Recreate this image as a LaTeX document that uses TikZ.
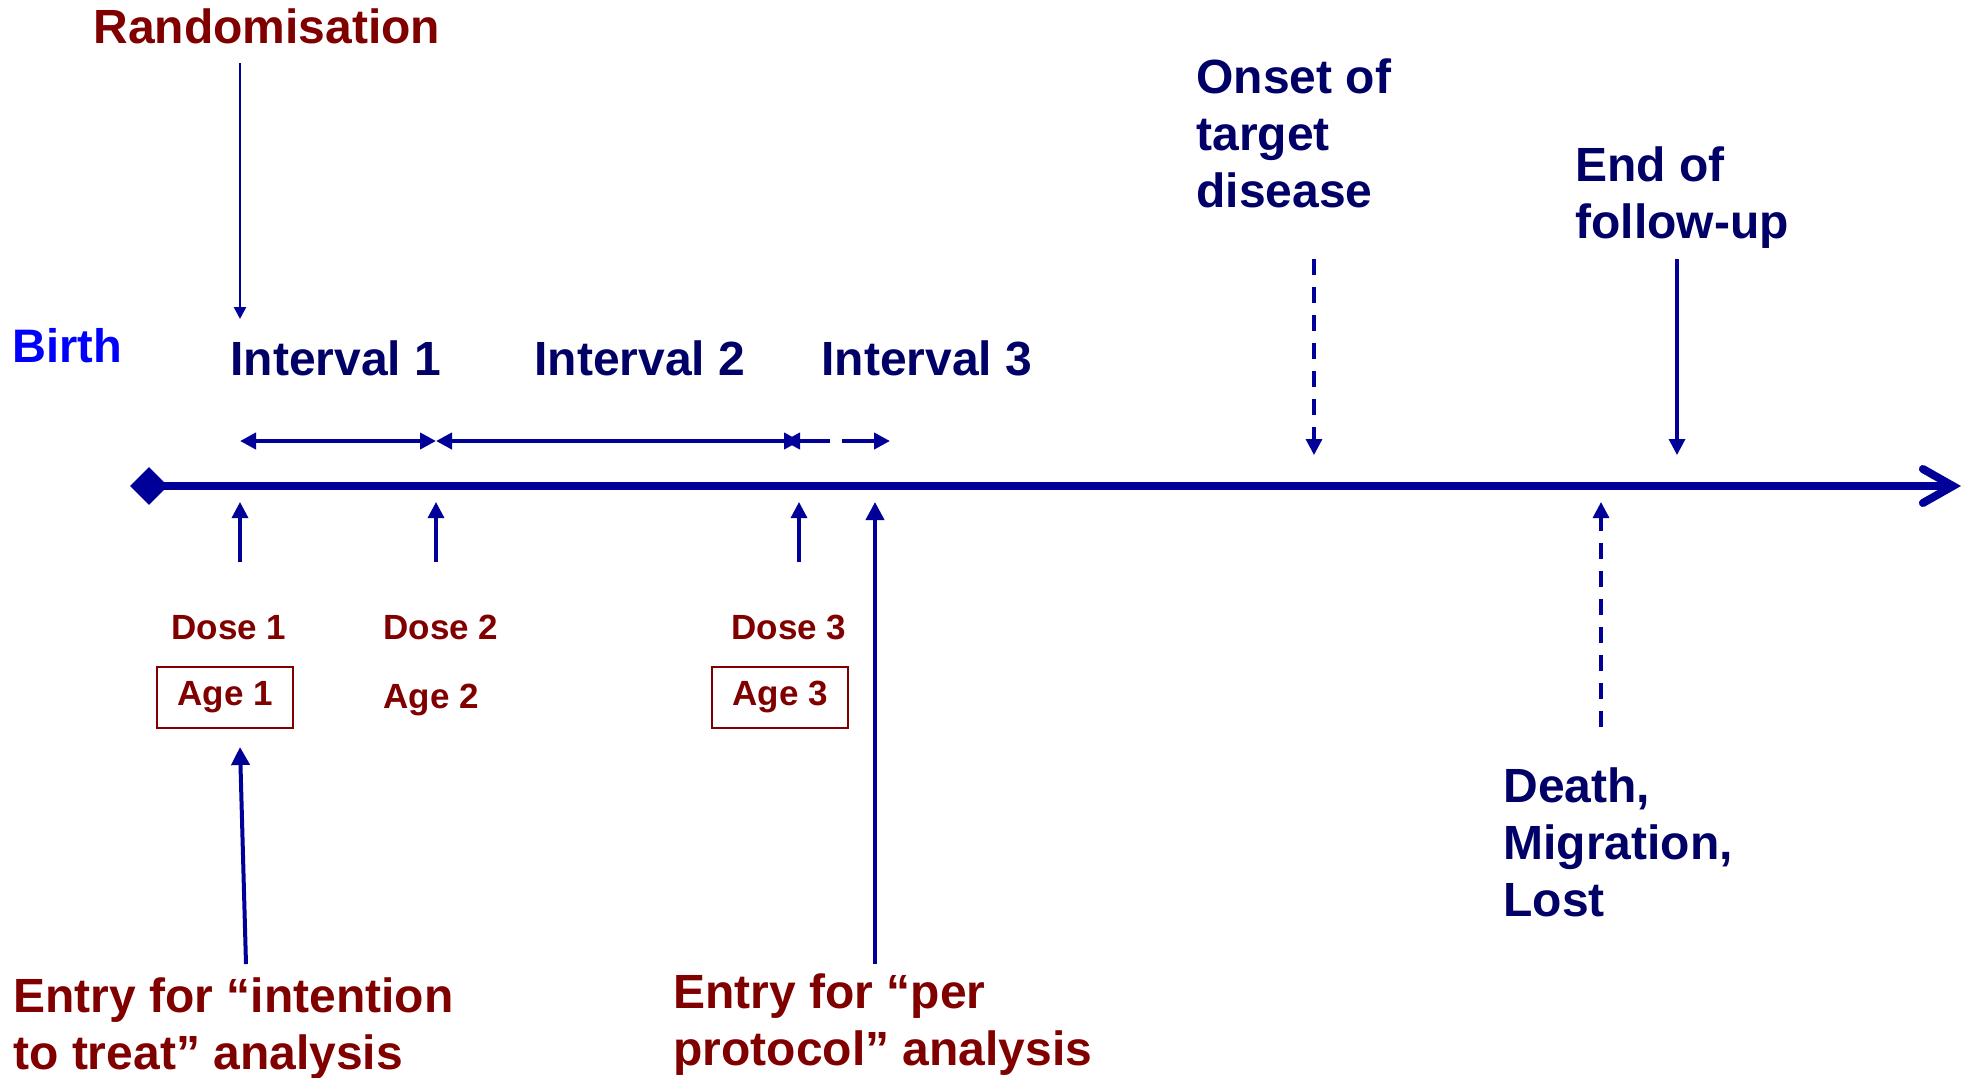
\documentclass[tikz,border=0pt]{standalone}
\usepackage{fontspec}
\setmainfont{Liberation Sans}
\usetikzlibrary{arrows.meta,shapes.geometric}
\definecolor{darkred}{RGB}{128,0,0}
\definecolor{navytext}{RGB}{0,0,102}
\definecolor{lineblue}{RGB}{0,0,153}
\definecolor{birthblue}{RGB}{0,0,255}
\begin{document}
\begin{tikzpicture}[x=0.5pt, y=-0.5pt,
    lab/.style={inner sep=0pt, anchor=base west, align=left,
        font=\fontsize{24}{28.5}\selectfont\bfseries},
    doselab/.style={inner sep=0pt, anchor=base west, text=darkred,
        font=\fontsize{17.5}{21}\selectfont\bfseries},
    agebox/.style={draw=darkred, line width=1pt, inner sep=0pt, minimum width=68pt,
        minimum height=30.5pt, text=darkred, font=\fontsize{17.5}{21}\selectfont\bfseries},
    arr/.style={draw=lineblue, line width=1.6pt, -{Triangle[length=8pt,width=8pt]}},
    thickarr/.style={draw=lineblue, line width=2pt, -{Triangle[length=9pt,width=9pt]}},
    dasharr/.style={arr, dash pattern=on 8pt off 6pt},
    span/.style={draw=lineblue, line width=2pt,
        {Triangle[length=8pt,width=8pt]}-{Triangle[length=8pt,width=8pt]}}]
    \useasboundingbox (0,0) rectangle (1962,1077);

    % time axis
    \node[diamond, fill=lineblue, inner sep=0pt, minimum width=19pt,
        minimum height=19pt] (birthpt) at (149,486) {};
    \coordinate (axisend) at (1961,486);
    \draw[lineblue, line width=4pt, line cap=round,
        -{Straight Barb[length=15pt,width=17pt,line cap=round]}] (birthpt.center) to (axisend);

    % labels above (multi-line nodes sit on their last line)
    \node[lab, text=darkred] (rand) at (93,43) {Randomisation};
    \node[lab, text=birthblue, font=\fontsize{23.5}{28}\selectfont\bfseries] (birth) at (12,362) {Birth};
    \node[lab, text=navytext] (int1) at (230,375) {Interval 1};
    \node[lab, text=navytext] (int2) at (534,375) {Interval 2};
    \node[lab, text=navytext] (int3) at (821,375) {Interval 3};
    \node[lab, text=navytext] (onset) at (1196,207) {Onset of\\target\\disease};
    \node[lab, text=navytext] (endfu) at (1575,238) {End of\\follow-up};

    % labels below
    \node[doselab] (dose1) at (171,639) {Dose 1};
    \node[doselab] (dose2) at (383,639) {Dose 2};
    \node[doselab] (dose3) at (731,639) {Dose 3};
    \node[agebox] (age1) at (225,697) {Age 1};
    \node[doselab] (age2) at (383,708) {Age 2};
    \node[agebox] (age3) at (780,697) {Age 3};
    \node[lab, text=navytext] (death) at (1503,916) {Death,\\Migration,\\Lost};
    \node[lab, text=darkred] (itt) at (13,1069) {Entry for “intention\\to treat” analysis};
    \node[lab, text=darkred] (pp) at (673,1065) {Entry for “per\\protocol” analysis};

    % arrow ends
    \coordinate (randtop) at (240,63);
    \coordinate (randtip) at (240,319);
    \coordinate (i1a) at (240,441);
    \coordinate (i1b) at (436,441);
    \coordinate (i2b) at (800,441);
    \coordinate (i3a) at (784,441);
    \coordinate (i3b) at (830,441);
    \coordinate (i3c) at (842,441);
    \coordinate (i3d) at (890,441);
    \coordinate (d1) at (240,562);
    \coordinate (d1tip) at (240,502);
    \coordinate (d2) at (436,562);
    \coordinate (d2tip) at (436,502);
    \coordinate (d3) at (799,562);
    \coordinate (d3tip) at (799,502);
    \coordinate (ittfoot) at (246,964);
    \coordinate (itttip) at (240,747);
    \coordinate (ppfoot) at (875,964);
    \coordinate (pptip) at (875,502);
    \coordinate (onsettop) at (1314,259);
    \coordinate (onsettip) at (1314,455);
    \coordinate (endtop) at (1677,259);
    \coordinate (endtip) at (1677,455);
    \coordinate (deathfoot) at (1601,727);
    \coordinate (deathtip) at (1601,502);

    \draw[arr, line width=1.2pt, -{Triangle[length=6pt,width=6pt]}] (randtop) to (randtip);

    \draw[span] (i1a) to (i1b);
    \draw[span] (i1b) to (i2b);
    \draw[draw=lineblue, line width=2pt, {Triangle[length=8pt,width=8pt]}-] (i3a) to (i3b);
    \draw[draw=lineblue, line width=2pt, -{Triangle[length=8pt,width=8pt]}] (i3c) to (i3d);

    \draw[arr] (d1) to (d1tip);
    \draw[arr] (d2) to (d2tip);
    \draw[arr] (d3) to (d3tip);

    \draw[thickarr] (ittfoot) to (itttip);
    \draw[thickarr] (ppfoot) to (pptip);

    \draw[dasharr] (onsettop) to (onsettip);
    \draw[arr] (endtop) to (endtip);
    \draw[dasharr] (deathfoot) to (deathtip);
\end{tikzpicture}
\end{document}
